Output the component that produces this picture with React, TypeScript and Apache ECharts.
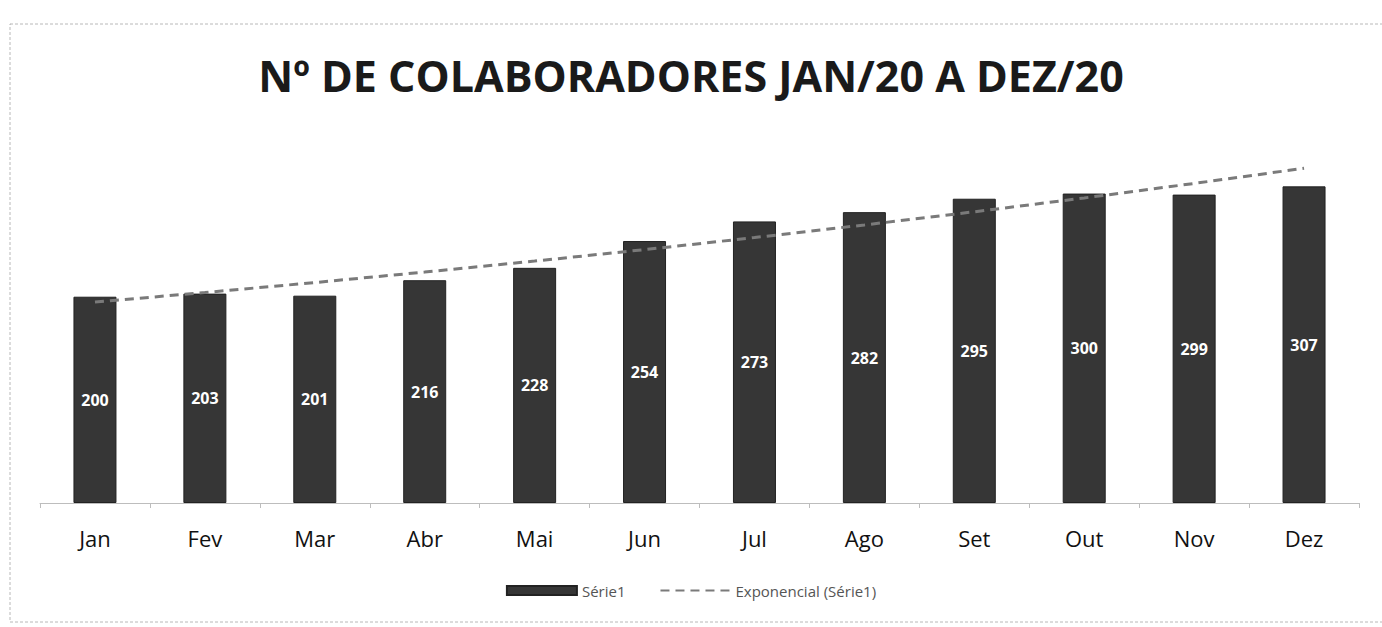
import React, { useEffect, useRef } from "react";
import * as echarts from "echarts";

const months = ["Jan", "Fev", "Mar", "Abr", "Mai", "Jun", "Jul", "Ago", "Set", "Out", "Nov", "Dez"];
const colaboradores = [200, 203, 201, 216, 228, 254, 273, 282, 295, 300, 299, 307];
const titleText = "Nº DE COLABORADORES JAN/20 A DEZ/20";
const barName = "Série1";
const trendName = "Exponencial (Série1)";

// exponential least-squares trendline derived from the data (like Excel's "Exponencial" trendline)
function expTrend(values: number[]): number[] {
  const n = values.length;
  const xs = values.map((_, i) => i + 1);
  const ys = values.map((v) => Math.log(v));
  const mx = xs.reduce((a, b) => a + b, 0) / n;
  const my = ys.reduce((a, b) => a + b, 0) / n;
  let sxy = 0;
  let sxx = 0;
  for (let i = 0; i < n; i++) {
    sxy += (xs[i] - mx) * (ys[i] - my);
    sxx += (xs[i] - mx) * (xs[i] - mx);
  }
  const b = sxy / sxx;
  const a = my - b * mx;
  return xs.map((x) => Math.round(Math.exp(a + b * x) * 100) / 100);
}

export default function App() {
  const ref = useRef<HTMLDivElement>(null);
  useEffect(() => {
    if (!ref.current) return;
    const chart = echarts.init(ref.current, undefined, { renderer: "svg" });
    const trend = expTrend(colaboradores);
    chart.setOption({
      animation: false,
      backgroundColor: "#ffffff",
      title: {
        text: titleText,
        left: "center",
        top: 49,
        textStyle: {
          fontFamily: "Open Sans",
          fontWeight: "bold",
          fontSize: 43,
          color: "#1a1a1a",
        },
      },
      graphic: [
        {
          type: "rect",
          shape: { x: 10, y: 24, width: 1380, height: 598 },
          style: { fill: "none", stroke: "#b8b8b8", lineWidth: 1, lineDash: [3, 2] },
          silent: true,
        },
      ],
      legend: {
        bottom: 24,
        left: "center",
        itemGap: 34,
        itemWidth: 70,
        itemHeight: 9,
        textStyle: { fontFamily: "Open Sans", fontSize: 15, color: "#555555" },
        data: [
          { name: barName, icon: "rect" },
          { name: trendName, itemStyle: { opacity: 0 } },
        ],
      },
      grid: { left: 40, right: 23, top: 142, bottom: 124 },
      xAxis: {
        type: "category",
        data: months,
        axisLine: { lineStyle: { color: "#bdbdbd", width: 1 } },
        axisTick: { show: true, length: 5, lineStyle: { color: "#bdbdbd" } },
        axisLabel: {
          margin: 24,
          fontFamily: "Open Sans",
          fontSize: 22,
          color: "#111111",
        },
      },
      yAxis: {
        type: "value",
        min: 0,
        max: 350,
        show: false,
        splitLine: { show: false },
      },
      series: [
        {
          name: barName,
          type: "bar",
          data: colaboradores,
          barWidth: 43,
          itemStyle: { color: "#363636", borderColor: "#222222", borderWidth: 1 },
          label: {
            show: true,
            position: "inside",
            color: "#ffffff",
            fontFamily: "Open Sans",
            fontWeight: "bold",
            fontSize: 16,
          },
        },
        {
          name: trendName,
          type: "line",
          data: trend,
          symbol: "none",
          smooth: false,
          lineStyle: { color: "#7a7a7a", width: 3, type: [9, 6] },
          itemStyle: { color: "#7a7a7a" },
          z: 5,
        },
      ],
    });
    return () => chart.dispose();
  }, []);
  return (
    <div
      ref={ref}
      style={{ position: "fixed", left: 0, top: 0, width: 1382, height: 627 }}
    />
  );
}
